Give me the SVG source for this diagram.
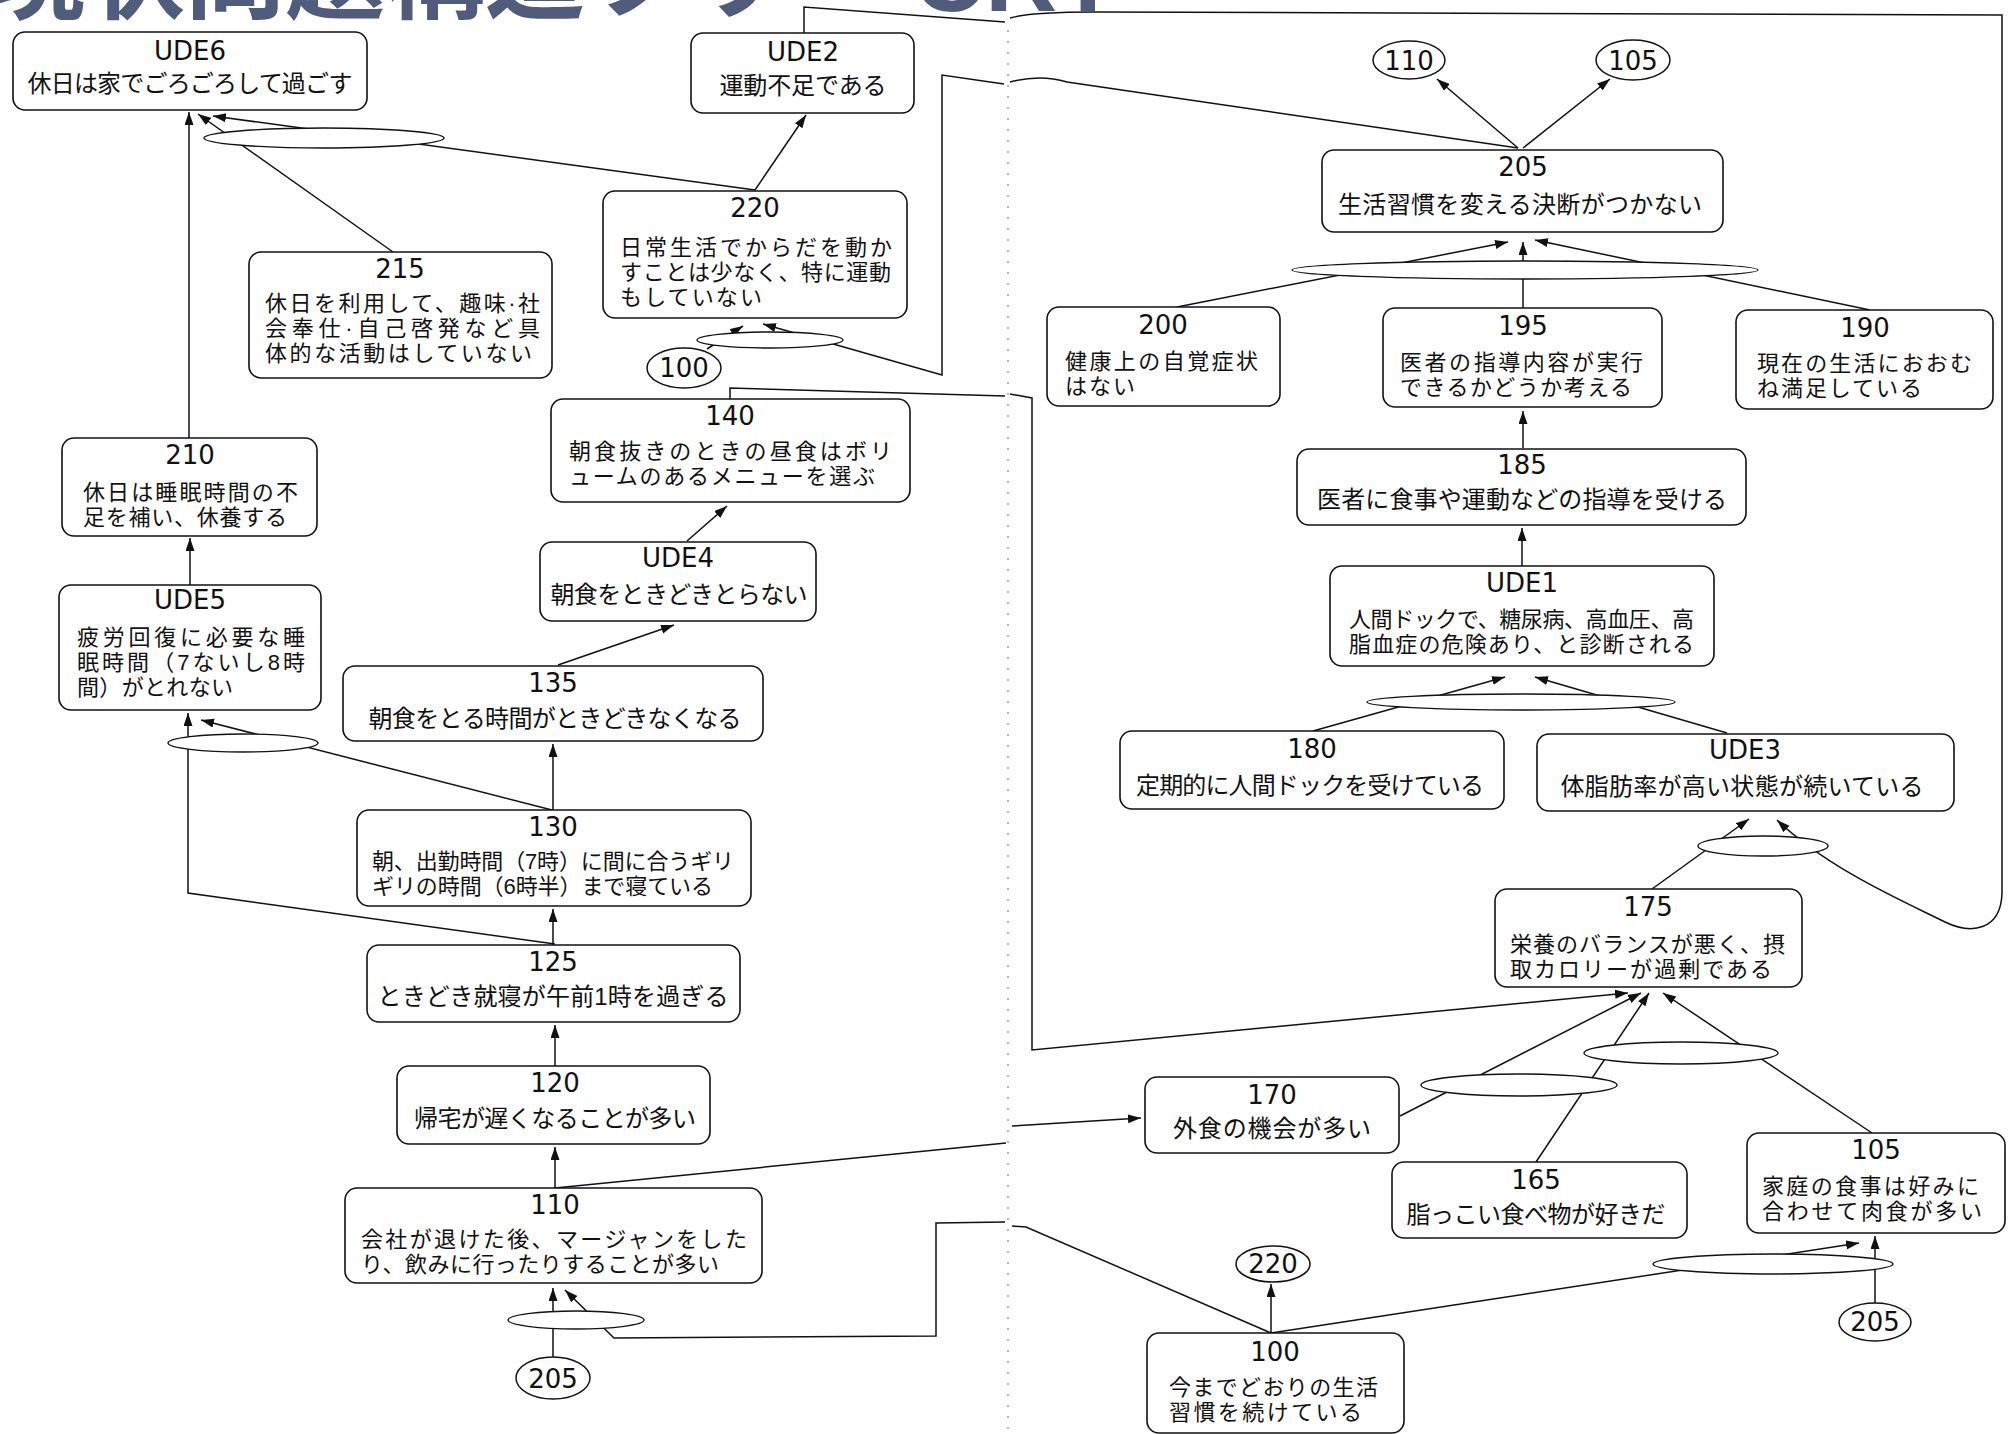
<svg xmlns="http://www.w3.org/2000/svg" width="2013" height="1434" viewBox="0 0 2013 1434">
<style>
.box{fill:#fff;stroke:#111;stroke-width:1.6}
.and{fill:#fff;stroke:#111;stroke-width:1.4}
.ref{fill:#fff;stroke:#111;stroke-width:1.5}
.c{fill:none;stroke:#111;stroke-width:1.5;stroke-linejoin:miter}
.a{marker-end:url(#ah)}
.n{font-family:"DejaVu Sans","Liberation Sans",sans-serif;font-size:26px;fill:#111;text-anchor:middle}
.t{font-family:"Liberation Sans","Noto Sans CJK JP",sans-serif;font-size:24px;fill:#111}
.t2{font-family:"Liberation Sans","Noto Sans CJK JP",sans-serif;font-size:22px;fill:#111}
.m{text-anchor:middle}
.title{font-family:"Liberation Sans","Noto Sans CJK JP",sans-serif;font-size:100px;font-weight:700;fill:#4f5c7b}
</style>
<defs>
<marker id="ah" markerWidth="14" markerHeight="10" refX="13" refY="4.5" orient="auto" markerUnits="userSpaceOnUse">
<path d="M0,0 L13,4.5 L0,9 Z" fill="#111"/>
</marker>
</defs>
<rect width="2013" height="1434" fill="#fff"/>
<g id="background">
<text class="title" x="-15" y="11">現状問題構造ツリー CRT</text>
<line x1="1008" y1="30" x2="1008" y2="1434" stroke="#888" stroke-width="1.2" stroke-dasharray="2 9"/>
</g>
<g id="connectors">
<path class="c a" d="M189,438 L189,112"/>
<path class="c a" d="M393,252 L198,114"/>
<path class="c a" d="M755,190 L213,116"/>
<path class="c a" d="M755,190 L806,115"/>
<path class="c a" d="M1518,148 L1067,82 Q1040,74 1010,82 M1004,84 L942,75 L942,375 L763,324"/>
<path class="c a" d="M707,349 L743,326"/>
<path class="c a" d="M804,33 L804,7 L1005,22 M1010,18 Q1030,12 1093,12 L2002,15 L2002,893 C2001,930 1972,935 1945,922 C1905,902 1830,870 1777,820"/>
<path class="c a" d="M1652,889 L1749,819"/>
<path class="c a" d="M1313,731 L1505,677"/>
<path class="c a" d="M1727,733 L1535,677"/>
<path class="c a" d="M1522,566 L1522,528"/>
<path class="c a" d="M1523,448 L1523,411"/>
<path class="c a" d="M1177,307 L1508,242"/>
<path class="c a" d="M1523,308 L1523,242"/>
<path class="c a" d="M1870,310 L1535,240"/>
<path class="c a" d="M1518,148 L1437,79"/>
<path class="c a" d="M1523,148 L1610,79"/>
<path class="c a" d="M730,399 L730,388 L1005,396 M1010,394 L1032,398 L1032,1050 L1628,993"/>
<path class="c a" d="M1400,1116 L1641,993"/>
<path class="c a" d="M1536,1162 L1649,993"/>
<path class="c a" d="M1872,1133 L1663,993"/>
<path class="c" d="M555,1188 L1006,1143"/>
<path class="c a" d="M1012,1126 L1141,1118"/>
<path class="c a" d="M1271,1333 L1026,1227 L1012,1226 M1005,1222 L936,1223 L936,1336 L614,1338 L565,1290"/>
<path class="c a" d="M553,1357 L553,1288"/>
<path class="c a" d="M1271,1333 L1271,1284"/>
<path class="c a" d="M1271,1333 L1859,1243"/>
<path class="c a" d="M1875,1303 L1875,1236"/>
<path class="c a" d="M555,944 L188,893 L188,713"/>
<path class="c a" d="M552,810 L201,720"/>
<path class="c a" d="M190,585 L190,538"/>
<path class="c a" d="M558,665 L674,625"/>
<path class="c a" d="M687,541 L727,506"/>
<path class="c a" d="M553,810 L553,744"/>
<path class="c a" d="M553,945 L553,909"/>
<path class="c a" d="M555,1066 L555,1025"/>
<path class="c a" d="M555,1188 L555,1147"/>
</g>
<g id="and-junctions">
<ellipse class="and" cx="324" cy="138" rx="120" ry="10"/>
<ellipse class="and" cx="243" cy="743" rx="75" ry="9"/>
<ellipse class="and" cx="770" cy="340" rx="73" ry="8"/>
<ellipse class="and" cx="576" cy="1320" rx="68" ry="9"/>
<ellipse class="and" cx="1525" cy="270" rx="233" ry="9"/>
<ellipse class="and" cx="1521" cy="702" rx="154" ry="8"/>
<ellipse class="and" cx="1763" cy="846" rx="65" ry="10"/>
<ellipse class="and" cx="1519" cy="1085" rx="98" ry="11"/>
<ellipse class="and" cx="1681" cy="1053" rx="97" ry="11"/>
<ellipse class="and" cx="1773" cy="1264" rx="120" ry="10"/>
</g>
<g id="node-UDE6"><rect class="box" x="13" y="32" width="354" height="78" rx="12"/>
<text class="n" x="190" y="60">UDE6</text>
<text class="t m" x="190" y="92" textLength="325">休日は家でごろごろして過ごす</text></g>
<g id="node-UDE2"><rect class="box" x="691" y="33" width="223" height="80" rx="12"/>
<text class="n" x="803" y="61">UDE2</text>
<text class="t m" x="803" y="94" textLength="167">運動不足である</text></g>
<g id="node-220"><rect class="box" x="603" y="191" width="304" height="127" rx="12"/>
<text class="n" x="755" y="217">220</text>
<text class="t2"><tspan x="620" y="255" textLength="272">日常生活でからだを動か</tspan><tspan x="620" y="280" textLength="271">すことは少なく、特に運動</tspan><tspan x="620" y="305" textLength="142">もしていない</tspan></text></g>
<g id="node-215"><rect class="box" x="249" y="252" width="303" height="126" rx="12"/>
<text class="n" x="400" y="278">215</text>
<text class="t2"><tspan x="265" y="311" textLength="275">休日を利用して、趣味·社</tspan><tspan x="265" y="336" textLength="275">会奉仕·自己啓発など具</tspan><tspan x="265" y="361" textLength="267">体的な活動はしていない</tspan></text></g>
<g id="ref-100-left"><ellipse class="ref" cx="684" cy="368" rx="37" ry="20"/>
<text class="n" x="684" y="377">100</text></g>
<g id="node-140"><rect class="box" x="551" y="399" width="359" height="103" rx="12"/>
<text class="n" x="730" y="425">140</text>
<text class="t2"><tspan x="569" y="459" textLength="323">朝食抜きのときの昼食はボリ</tspan><tspan x="569" y="484" textLength="306">ュームのあるメニューを選ぶ</tspan></text></g>
<g id="node-210"><rect class="box" x="62" y="438" width="255" height="98" rx="12"/>
<text class="n" x="190" y="464">210</text>
<text class="t2"><tspan x="83" y="500" textLength="215">休日は睡眠時間の不</tspan><tspan x="83" y="525" textLength="204">足を補い、休養する</tspan></text></g>
<g id="node-UDE4"><rect class="box" x="540" y="542" width="276" height="79" rx="12"/>
<text class="n" x="678" y="567">UDE4</text>
<text class="t m" x="679" y="603" textLength="257">朝食をときどきとらない</text></g>
<g id="node-UDE5"><rect class="box" x="59" y="585" width="262" height="125" rx="12"/>
<text class="n" x="190" y="609">UDE5</text>
<text class="t2"><tspan x="77" y="645" textLength="228">疲労回復に必要な睡</tspan><tspan x="77" y="670" textLength="228">眠時間（7ないし8時</tspan><tspan x="77" y="695" textLength="156">間）がとれない</tspan></text></g>
<g id="node-135"><rect class="box" x="343" y="666" width="420" height="75" rx="12"/>
<text class="n" x="553" y="692">135</text>
<text class="t m" x="555" y="727" textLength="373">朝食をとる時間がときどきなくなる</text></g>
<g id="node-130"><rect class="box" x="357" y="810" width="394" height="96" rx="12"/>
<text class="n" x="553" y="836">130</text>
<text class="t2"><tspan x="372" y="869" textLength="362">朝、出勤時間（7時）に間に合うギリ</tspan><tspan x="372" y="894" textLength="341">ギリの時間（6時半）まで寝ている</tspan></text></g>
<g id="node-125"><rect class="box" x="367" y="945" width="373" height="77" rx="12"/>
<text class="n" x="553" y="971">125</text>
<text class="t m" x="553" y="1005" textLength="351">ときどき就寝が午前1時を過ぎる</text></g>
<g id="node-120"><rect class="box" x="397" y="1066" width="313" height="78" rx="12"/>
<text class="n" x="555" y="1092">120</text>
<text class="t m" x="555" y="1127" textLength="282">帰宅が遅くなることが多い</text></g>
<g id="node-110"><rect class="box" x="345" y="1188" width="417" height="95" rx="12"/>
<text class="n" x="555" y="1214">110</text>
<text class="t2"><tspan x="361" y="1247" textLength="386">会社が退けた後、マージャンをした</tspan><tspan x="361" y="1272" textLength="358">り、飲みに行ったりすることが多い</tspan></text></g>
<g id="ref-205-left"><ellipse class="ref" cx="553" cy="1378" rx="37" ry="21"/>
<text class="n" x="553" y="1388">205</text></g>
<g id="ref-110-top"><ellipse class="ref" cx="1409" cy="60" rx="36" ry="19"/>
<text class="n" x="1409" y="70">110</text></g>
<g id="ref-105-top"><ellipse class="ref" cx="1633" cy="60" rx="37" ry="20"/>
<text class="n" x="1633" y="70">105</text></g>
<g id="node-205"><rect class="box" x="1322" y="150" width="401" height="82" rx="12"/>
<text class="n" x="1523" y="176">205</text>
<text class="t m" x="1520" y="213" textLength="364">生活習慣を変える決断がつかない</text></g>
<g id="node-200"><rect class="box" x="1047" y="307" width="233" height="99" rx="12"/>
<text class="n" x="1163" y="334">200</text>
<text class="t2"><tspan x="1065" y="369" textLength="193">健康上の自覚症状</tspan><tspan x="1065" y="394" textLength="70">はない</tspan></text></g>
<g id="node-195"><rect class="box" x="1383" y="308" width="279" height="99" rx="12"/>
<text class="n" x="1523" y="335">195</text>
<text class="t2"><tspan x="1400" y="370" textLength="243">医者の指導内容が実行</tspan><tspan x="1400" y="395" textLength="232">できるかどうか考える</tspan></text></g>
<g id="node-190"><rect class="box" x="1736" y="310" width="257" height="99" rx="12"/>
<text class="n" x="1865" y="337">190</text>
<text class="t2"><tspan x="1757" y="371" textLength="215">現在の生活におおむ</tspan><tspan x="1757" y="396" textLength="165">ね満足している</tspan></text></g>
<g id="node-185"><rect class="box" x="1297" y="449" width="449" height="76" rx="12"/>
<text class="n" x="1522" y="474">185</text>
<text class="t m" x="1522" y="508" textLength="410">医者に食事や運動などの指導を受ける</text></g>
<g id="node-UDE1"><rect class="box" x="1330" y="566" width="384" height="100" rx="12"/>
<text class="n" x="1522" y="592">UDE1</text>
<text class="t2"><tspan x="1349" y="627" textLength="345">人間ドックで、糖尿病、高血圧、高</tspan><tspan x="1349" y="652" textLength="345">脂血症の危険あり、と診断される</tspan></text></g>
<g id="node-180"><rect class="box" x="1120" y="731" width="384" height="78" rx="12"/>
<text class="n" x="1312" y="758">180</text>
<text class="t m" x="1310" y="794" textLength="348">定期的に人間ドックを受けている</text></g>
<g id="node-UDE3"><rect class="box" x="1537" y="734" width="417" height="77" rx="12"/>
<text class="n" x="1745" y="759">UDE3</text>
<text class="t m" x="1742" y="795" textLength="363">体脂肪率が高い状態が続いている</text></g>
<g id="node-175"><rect class="box" x="1495" y="889" width="307" height="98" rx="12"/>
<text class="n" x="1648" y="916">175</text>
<text class="t2"><tspan x="1510" y="952" textLength="275">栄養のバランスが悪く、摂</tspan><tspan x="1510" y="977" textLength="262">取カロリーが過剰である</tspan></text></g>
<g id="node-170"><rect class="box" x="1145" y="1077" width="254" height="76" rx="12"/>
<text class="n" x="1272" y="1104">170</text>
<text class="t m" x="1272" y="1137" textLength="198">外食の機会が多い</text></g>
<g id="node-165"><rect class="box" x="1392" y="1162" width="295" height="76" rx="12"/>
<text class="n" x="1536" y="1189">165</text>
<text class="t m" x="1536" y="1223" textLength="259">脂っこい食べ物が好きだ</text></g>
<g id="node-105"><rect class="box" x="1747" y="1133" width="258" height="100" rx="12"/>
<text class="n" x="1876" y="1159">105</text>
<text class="t2"><tspan x="1762" y="1194" textLength="217">家庭の食事は好みに</tspan><tspan x="1762" y="1219" textLength="220">合わせて肉食が多い</tspan></text></g>
<g id="ref-220-bottom"><ellipse class="ref" cx="1273" cy="1264" rx="37" ry="18"/>
<text class="n" x="1273" y="1273">220</text></g>
<g id="ref-205-bottom"><ellipse class="ref" cx="1875" cy="1322" rx="36" ry="19"/>
<text class="n" x="1875" y="1331">205</text></g>
<g id="node-100"><rect class="box" x="1147" y="1333" width="257" height="100" rx="12"/>
<text class="n" x="1275" y="1361">100</text>
<text class="t2"><tspan x="1169" y="1395" textLength="209">今までどおりの生活</tspan><tspan x="1169" y="1420" textLength="193">習慣を続けている</tspan></text></g>
</svg>
